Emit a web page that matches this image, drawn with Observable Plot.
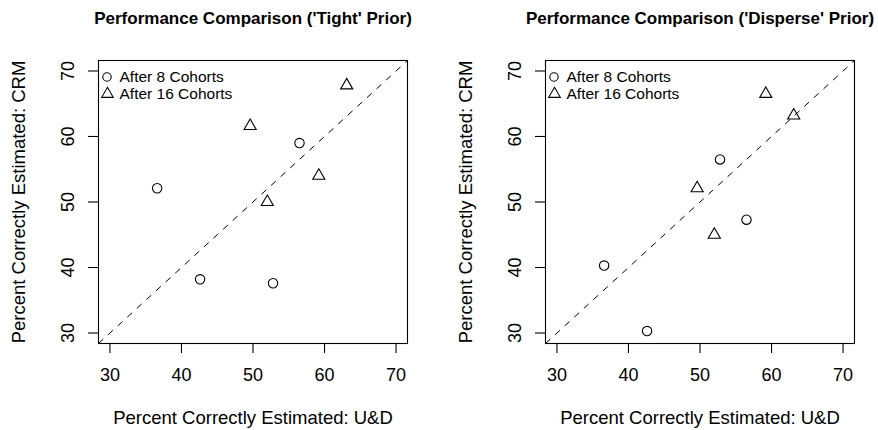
<!DOCTYPE html>
<html>
<head>
<meta charset="utf-8">
<script src="https://cdn.jsdelivr.net/npm/d3@7"></script>
<script src="https://cdn.jsdelivr.net/npm/@observablehq/plot@0.6"></script>
<style>
  body { margin: 0; background: #fff; }
  #wrap { position: relative; width: 878px; height: 430px; overflow: hidden; background: #fff; }
  .panel { position: absolute; top: 0; }
</style>
</head>
<body>
<div id="wrap"></div>
<script>
// ---- data ----
const axisTicks = [30, 40, 50, 60, 70];
const axisLimits = [30, 70];
const udAfter8 = [36.6, 42.6, 52.8, 56.5];     // U&D, after 8 cohorts
const udAfter16 = [49.6, 52.0, 59.2, 63.1];    // U&D, after 16 cohorts
const tightCrm8 = [52.1, 38.2, 37.6, 59.0];
const tightCrm16 = [61.6, 50.0, 54.0, 67.8];
const disperseCrm8 = [40.3, 30.3, 56.5, 47.3];
const disperseCrm16 = [52.1, 45.0, 66.5, 63.2];
const legendLabels = ["After 8 Cohorts", "After 16 Cohorts"];
const panelTitles = ["Performance Comparison ('Tight' Prior)", "Performance Comparison ('Disperse' Prior)"];
const xLabel = "Percent Correctly Estimated: U&D";
const yLabel = "Percent Correctly Estimated: CRM";

const pad = (axisLimits[1] - axisLimits[0]) * 0.04;
const domain = [axisLimits[0] - pad, axisLimits[1] + pad];
const font = "'Liberation Sans', Arial, Helvetica, sans-serif";

function panel(title, crm8, crm16, marginLeft, marginRight) {
  const pts8 = udAfter8.map((x, i) => ({x, y: crm8[i]}));
  const pts16 = udAfter16.map((x, i) => ({x, y: crm16[i]}));
  return Plot.plot({
    width: 439,
    height: 430,
    marginTop: 60,
    marginBottom: 87,
    marginLeft,
    marginRight,
    x: {type: "linear", domain},
    y: {type: "linear", domain},
    style: {fontFamily: font, background: "white", color: "black", overflow: "visible"},
    marks: [
      Plot.link([domain], {x1: d => d[0], y1: d => d[0], x2: d => d[1], y2: d => d[1],
        stroke: "black", strokeWidth: 1, strokeDasharray: "6.5,6.5"}),
      Plot.dot(pts8, {x: "x", y: "y", symbol: "circle", r: 4.7, stroke: "black", strokeWidth: 1.1, fill: "none"}),
      Plot.dot(pts16, {x: "x", y: "y", symbol: "triangle", r: 4.5, stroke: "black", strokeWidth: 1.1, fill: "none"}),
      Plot.frame({stroke: "black", strokeWidth: 1.1}),
      Plot.axisX({ticks: axisTicks, tickSize: 10, tickPadding: 15, fontSize: 18, label: null,
        tickFormat: d => String(d), strokeWidth: 1.1}),
      Plot.axisY({ticks: axisTicks, tickSize: 10, tickPadding: 15, fontSize: 18, label: null,
        tickRotate: -90, tickFormat: d => String(d), strokeWidth: 1.1}),
      Plot.text([xLabel], {frameAnchor: "bottom", dy: 75, fontSize: 18.5, textAnchor: "middle",
        lineAnchor: "middle", text: d => d}),
      Plot.text([yLabel], {frameAnchor: "left", dx: -79, rotate: -90, fontSize: 18.5, textAnchor: "middle",
        lineAnchor: "middle", text: d => d}),
      Plot.text([title], {frameAnchor: "top", dy: -42, fontSize: 17, fontWeight: "bold", textAnchor: "middle",
        lineAnchor: "middle", text: d => d}),
      // legend
      Plot.dot([legendLabels[0]], {frameAnchor: "top-left", dx: 8.5, dy: 16.5, symbol: "circle", r: 4.2,
        stroke: "black", strokeWidth: 1.1, fill: "none"}),
      Plot.dot([legendLabels[1]], {frameAnchor: "top-left", dx: 9, dy: 33.5, symbol: "triangle", r: 4.3,
        stroke: "black", strokeWidth: 1.1, fill: "none"}),
      Plot.text([legendLabels[0]], {frameAnchor: "top-left", dx: 21, dy: 16.5, textAnchor: "start",
        lineAnchor: "middle", fontSize: 15.5, text: d => d}),
      Plot.text([legendLabels[1]], {frameAnchor: "top-left", dx: 21, dy: 33.5, textAnchor: "start",
        lineAnchor: "middle", fontSize: 15.5, text: d => d})
    ]
  });
}

const wrap = document.getElementById("wrap");
const specs = [
  {left: 0, title: panelTitles[0], c8: tightCrm8, c16: tightCrm16, ml: 98, mr: 32},
  {left: 439, title: panelTitles[1], c8: disperseCrm8, c16: disperseCrm16, ml: 106, mr: 24}
];
for (const s of specs) {
  const div = document.createElement("div");
  div.className = "panel";
  div.style.left = s.left + "px";
  div.appendChild(panel(s.title, s.c8, s.c16, s.ml, s.mr));
  wrap.appendChild(div);
}
</script>
</body>
</html>
